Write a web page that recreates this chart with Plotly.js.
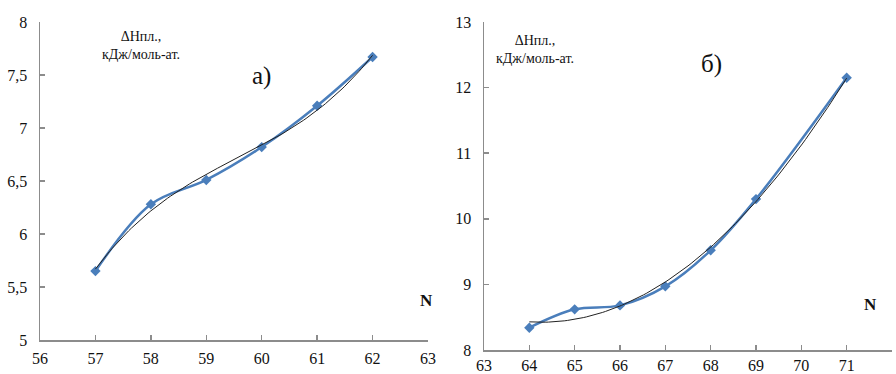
<!DOCTYPE html>
<html>
<head>
<meta charset="utf-8">
<script src="https://cdn.plot.ly/plotly-3.0.1.min.js"></script>
<style>
  html, body { margin: 0; padding: 0; background: #fff; }
  #chart { width: 896px; height: 374px; }
</style>
</head>
<body>
<div id="chart"></div>
<script>
// Panel а): atomic number N vs melting enthalpy
const nA = [57, 58, 59, 60, 61, 62];
const hA = [5.65, 6.28, 6.51, 6.82, 7.21, 7.67];
// Panel б)
const nB = [64, 65, 66, 67, 68, 69, 71];
const hB = [8.34, 8.62, 8.68, 8.97, 9.52, 10.30, 12.15];

const yTitle = 'ΔНпл.,<br>кДж/моль-ат.';

// Least-squares polynomial trendline
function polyfit(xs, ys, deg) {
  const n = deg + 1;
  const A = Array.from({length: n}, () => new Array(n + 1).fill(0));
  for (let k = 0; k < xs.length; k++) {
    const x = xs[k] - xs[0];
    for (let i = 0; i < n; i++) {
      for (let j = 0; j < n; j++) A[i][j] += Math.pow(x, i + j);
      A[i][n] += ys[k] * Math.pow(x, i);
    }
  }
  for (let c = 0; c < n; c++) {
    let p = c;
    for (let r = c + 1; r < n; r++) if (Math.abs(A[r][c]) > Math.abs(A[p][c])) p = r;
    [A[c], A[p]] = [A[p], A[c]];
    for (let r = 0; r < n; r++) {
      if (r === c) continue;
      const f = A[r][c] / A[c][c];
      for (let j = c; j <= n; j++) A[r][j] -= f * A[c][j];
    }
  }
  const coef = A.map((row, i) => row[n] / row[i]);
  return x => coef.reduce((s, c, i) => s + c * Math.pow(x - xs[0], i), 0);
}

function trend(xs, ys, deg) {
  const f = polyfit(xs, ys, deg);
  const x0 = xs[0], x1 = xs[xs.length - 1];
  const tx = [], ty = [];
  for (let i = 0; i <= 100; i++) {
    const x = x0 + (x1 - x0) * i / 100;
    tx.push(x); ty.push(f(x));
  }
  return {tx, ty};
}

const tA = trend(nA, hA, 3);
const tB = trend(nB, hB, 2);

const blue = '#4a7ebb';
const serif = 'Liberation Serif';
const ink = '#111';

const data = [
  {x: nA, y: hA, xaxis: 'x', yaxis: 'y', mode: 'lines+markers',
   line: {color: blue, width: 2.5, shape: 'spline', smoothing: 1},
   marker: {symbol: 'diamond', size: 8, color: blue}},
  {x: tA.tx, y: tA.ty, xaxis: 'x', yaxis: 'y', mode: 'lines',
   line: {color: '#222', width: 1}},
  {x: nB, y: hB, xaxis: 'x2', yaxis: 'y2', mode: 'lines+markers',
   line: {color: blue, width: 2.5, shape: 'spline', smoothing: 1},
   marker: {symbol: 'diamond', size: 8, color: blue}},
  {x: tB.tx, y: tB.ty, xaxis: 'x2', yaxis: 'y2', mode: 'lines',
   line: {color: '#222', width: 1}}
];

const axisCommon = {
  showgrid: false, zeroline: false, showline: true,
  linecolor: '#8c8c8c', linewidth: 1.5,
  ticks: 'inside', ticklen: 5, tickcolor: '#8c8c8c', tickwidth: 1.5,
  tickfont: {family: serif, size: 16, color: ink}
};

const layout = {
  width: 896, height: 374,
  margin: {l: 0, r: 0, t: 0, b: 0},
  paper_bgcolor: '#fff', plot_bgcolor: '#fff',
  separators: ', ',
  showlegend: false,
  font: {family: serif, color: ink},
  xaxis: Object.assign({}, axisCommon, {domain: [40/896, 428/896], range: [56, 63], dtick: 1, anchor: 'y', ticklabelstandoff: 3}),
  yaxis: Object.assign({}, axisCommon, {domain: [34/374, 352/374], range: [5, 8], dtick: 0.5, anchor: 'x', ticklabelstandoff: 8}),
  xaxis2: Object.assign({}, axisCommon, {domain: [484/896, 892/896], range: [63, 72], dtick: 1, anchor: 'y2', ticklabelstandoff: 0}),
  yaxis2: Object.assign({}, axisCommon, {domain: [24/374, 352/374], range: [8, 13], dtick: 1, anchor: 'x2', ticklabelstandoff: 8}),
  annotations: [
    {text: yTitle, xref: 'paper', yref: 'paper', x: 100/896, y: 1 - 27/374, showarrow: false,
     font: {family: serif, size: 14, color: ink}, align: 'center'},
    {text: 'а)', xref: 'paper', yref: 'paper', x: 250/896, y: 1 - 60/374, showarrow: false,
     font: {family: serif, size: 25, color: ink}},
    {text: '<b>N</b>', xref: 'paper', yref: 'paper', x: 426/896, y: 1 - 312/374, showarrow: false,
     font: {family: serif, size: 17, color: ink}},
    {text: yTitle, xref: 'paper', yref: 'paper', x: 535/896, y: 1 - 31/374, showarrow: false,
     font: {family: serif, size: 14, color: ink}, align: 'center'},
    {text: 'б)', xref: 'paper', yref: 'paper', x: 724/896, y: 1 - 48/374, showarrow: false,
     font: {family: serif, size: 25, color: ink}},
    {text: '<b>N</b>', xref: 'paper', yref: 'paper', x: 879/896, y: 1 - 316/374, showarrow: false,
     font: {family: serif, size: 17, color: ink}}
  ]
};

Plotly.newPlot('chart', data, layout, {displayModeBar: false, staticPlot: true});
</script>
</body>
</html>
